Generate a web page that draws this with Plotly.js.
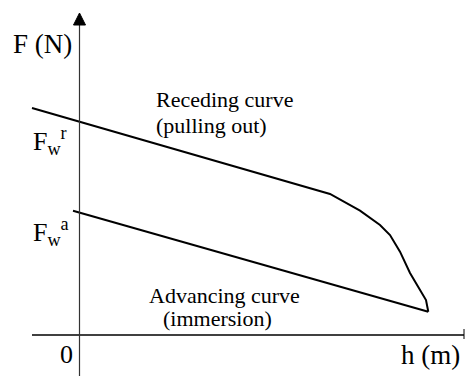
<!DOCTYPE html>
<html>
<head>
<meta charset="utf-8">
<script src="https://cdn.plot.ly/plotly-3.0.1.min.js"></script>
<style>html,body{margin:0;padding:0;background:#fff;}#chart{width:465px;height:376px;}</style>
</head>
<body>
<div id="chart"></div>
<script>
// Receding curve (pulling out): h, F (arbitrary units)
const recedingH = [-4.75, 25.05, 28.05, 30.05, 31.05, 32.05, 33.05, 34.05, 34.65, 34.88];
const recedingF = [22.7, 14.1, 12.43, 11.0, 10.0, 8.33, 6.2, 4.5, 3.5, 2.33];
// Advancing curve (immersion)
const advancingH = [-0.65, 34.88];
const advancingF = [12.43, 2.33];

const labelFont = 'Liberation Serif';

const traces = [
  {x: recedingH, y: recedingF, mode: 'lines', line: {color: '#000', width: 2}, hoverinfo: 'skip'},
  {x: advancingH, y: advancingF, mode: 'lines', line: {color: '#000', width: 2}, hoverinfo: 'skip'}
];

function ann(text, x, y, size, xanchor) {
  return {text: text, x: x, y: y, xref: 'x', yref: 'y', showarrow: false,
          xanchor: xanchor || 'center', yanchor: 'middle',
          font: {family: labelFont, size: size, color: '#000'}};
}

const layout = {
  width: 465, height: 376,
  margin: {l: 0, r: 0, t: 0, b: 0},
  paper_bgcolor: '#fff', plot_bgcolor: '#fff',
  showlegend: false,
  font: {family: labelFont},
  xaxis: {range: [-7.95, 38.55], visible: false, fixedrange: true},
  yaxis: {range: [-4.1, 33.5], visible: false, fixedrange: true},
  shapes: [
    {type: 'line', x0: -4.75, x1: 38.45, y0: 0, y1: 0, line: {color: '#000', width: 1.5}},
    {type: 'line', x0: 38.45, x1: 38.45, y0: 0.6, y1: -0.4, line: {color: '#000', width: 1}},
    {type: 'line', x0: 0, x1: 0, y0: -4.1, y1: 31.1, line: {color: '#333', width: 1.2}},
    {type: 'path', path: 'M 0 32.2 L -0.6 31.0 L 0.6 31.0 Z', fillcolor: '#000', line: {color: '#000', width: 1}}
  ],
  annotations: [
    ann('F (N)', -3.75, 29.1, 27),
    ann('F<sub>w</sub><sup>r</sup>', -2.95, 19.4, 26),
    ann('F<sub>w</sub><sup>a</sup>', -2.85, 10.3, 26),
    ann('0', -1.35, -1.9, 26),
    ann('h (m)', 35.05, -2.0, 27),
    ann('Receding curve', 7.45, 23.6, 22, 'left'),
    ann('(pulling out)', 7.45, 21.0, 22, 'left'),
    ann('Advancing curve', 6.75, 4.0, 22, 'left'),
    ann('(immersion)', 8.15, 1.7, 22, 'left')
  ]
};

Plotly.newPlot('chart', traces, layout, {staticPlot: true, displayModeBar: false});
</script>
</body>
</html>
